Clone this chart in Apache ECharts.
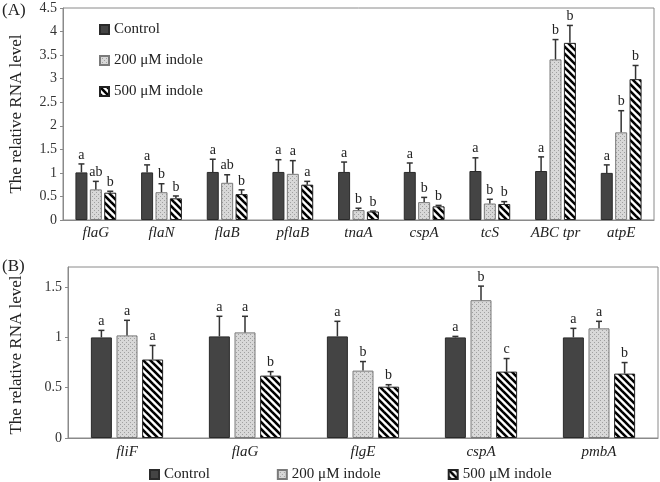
<!DOCTYPE html>
<html><head><meta charset="utf-8">
<script src="https://cdn.jsdelivr.net/npm/echarts@6/dist/echarts.min.js"></script>
<style>html,body{margin:0;padding:0;background:#fff}#c{width:660px;height:482px}</style>
</head><body><div id="c"></div>
<script>
// Panel A data
const categoriesA = ['flaG','flaN','flaB','pflaB','tnaA','cspA','tcS','ABC tpr','atpE'];
const controlA    = [1.01,1.01,1.02,1.02,1.02,1.02,1.04,1.04,1.00];
const controlErrA = [0.18,0.16,0.27,0.26,0.21,0.19,0.28,0.30,0.17];
const ind200A     = [0.65,0.59,0.79,0.98,0.21,0.38,0.35,3.41,1.86];
const ind200ErrA  = [0.17,0.18,0.17,0.28,0.04,0.10,0.09,0.42,0.46];
const ind500A     = [0.58,0.46,0.55,0.75,0.18,0.29,0.34,3.76,2.99];
const ind500ErrA  = [0.03,0.05,0.09,0.07,0.01,0.02,0.05,0.37,0.29];
const lettersControlA = ['a','a','a','a','a','a','a','a','a'];
const letters200A     = ['ab','b','ab','a','b','b','b','b','b'];
const letters500A     = ['b','b','b','a','b','b','b','b','b'];
// Panel B data
const categoriesB = ['fliF','flaG','flgE','cspA','pmbA'];
const controlB    = [1.00,1.01,1.01,1.00,1.00];
const controlErrB = [0.07,0.20,0.15,0.01,0.09];
const ind200B     = [1.02,1.05,0.67,1.37,1.09];
const ind200ErrB  = [0.15,0.16,0.09,0.14,0.07];
const ind500B     = [0.78,0.62,0.51,0.66,0.64];
const ind500ErrB  = [0.14,0.04,0.02,0.13,0.11];
const lettersControlB = ['a','a','a','a','a'];
const letters200B     = ['a','a','b','b','a'];
const letters500B     = ['a','b','b','c','b'];
const ticksA = ['0','0.5','1','1.5','2','2.5','3','3.5','4','4.5'];
const ticksB = ['0','0.5','1','1.5'];
const seriesNames = ['Control','200 μM indole','500 μM indole'];
const yName = 'The relative RNA level';

const FONT = '"Liberation Serif","Times New Roman",serif';

function dotPattern(){
  const c = document.createElement('canvas'); c.width = 4; c.height = 4;
  const g = c.getContext('2d');
  g.fillStyle = '#d8d8d8'; g.fillRect(0,0,4,4);
  g.fillStyle = '#a0a0a0';
  g.fillRect(0,0,1,1); g.fillRect(2,2,1,1);
  return {image: c, repeat: 'repeat'};
}
function stripePattern(){
  const s = 7;
  const c = document.createElement('canvas'); c.width = s; c.height = s;
  const g = c.getContext('2d');
  g.fillStyle = '#ffffff'; g.fillRect(0,0,s,s);
  g.strokeStyle = '#000'; g.lineWidth = 2.6;
  for (let k=-1;k<=1;k++){ g.beginPath(); g.moveTo(-1, k*s-1); g.lineTo(s+1, s+k*s+1); g.stroke(); }
  return {image: c, repeat: 'repeat'};
}
const styles = [
  {color:'#444444', borderColor:'#2a2a2a', borderWidth:1},
  {color:dotPattern(), borderColor:'#7a7a7a', borderWidth:1},
  {color:stripePattern(), borderColor:'#222', borderWidth:1}
];

function errSeries(axisIdx, vals, errs, letters, offset){
  return {
    type:'custom', xAxisIndex:axisIdx, yAxisIndex:axisIdx, silent:true, z:5,
    data: vals.map((v,i)=>[i, v, errs[i]]),
    renderItem: function(params, api){
      const i = api.value(0), v = api.value(1), e = api.value(2);
      const b = api.coord([i, v]); const t = api.coord([i, v+e]);
      const x = b[0] + offset;
      return {type:'group', children:[
        {type:'line', shape:{x1:x,y1:b[1],x2:x,y2:t[1]}, style:{stroke:'#333',lineWidth:1.5}},
        {type:'line', shape:{x1:x-3,y1:t[1],x2:x+3,y2:t[1]}, style:{stroke:'#333',lineWidth:1.5}},
        {type:'text', style:{text:letters[params.dataIndex], x:x, y:t[1]-2, align:'center', verticalAlign:'bottom', font:'14px '+FONT, fill:'#222'}}
      ]};
    }
  };
}

const chart = echarts.init(document.getElementById('c'), null, {renderer:'canvas'});
const yLabel = {fontFamily:FONT, fontSize:14, color:'#333', margin:6};
const xLabel = {fontFamily:FONT, fontSize:15, fontStyle:'italic', color:'#222'};
const barsA = [controlA, ind200A, ind500A];
const barsB = [controlB, ind200B, ind500B];
const series = [];
seriesNames.forEach((n,k)=>{
  series.push({name:n, type:'bar', xAxisIndex:0, yAxisIndex:0, data:barsA[k], barWidth:12, barGap:'20%', itemStyle:styles[k]});
});
seriesNames.forEach((n,k)=>{
  series.push({name:n, type:'bar', xAxisIndex:1, yAxisIndex:1, data:barsB[k], barWidth:21, barGap:'22%', itemStyle:styles[k]});
});
series.push(errSeries(0, controlA, controlErrA, lettersControlA, -14.4));
series.push(errSeries(0, ind200A, ind200ErrA, letters200A, 0));
series.push(errSeries(0, ind500A, ind500ErrA, letters500A, 14.4));
series.push(errSeries(1, controlB, controlErrB, lettersControlB, -25.6));
series.push(errSeries(1, ind200B, ind200ErrB, letters200B, 0));
series.push(errSeries(1, ind500B, ind500ErrB, letters500B, 25.6));

chart.setOption({
  animation:false,
  backgroundColor:'#fff',
  grid:[
    {left:62, right:6, top:8, bottom:262, show:true, borderColor:'#8a8a8a', borderWidth:1, containLabel:false},
    {left:68, right:2, top:267, bottom:44, show:true, borderColor:'#8a8a8a', borderWidth:1, containLabel:false}
  ],
  legend:[
    {data:seriesNames, orient:'vertical', left:94, top:17, itemWidth:9, itemHeight:9, itemGap:16, icon:'rect',
     textStyle:{fontFamily:FONT, fontSize:15, color:'#222'}},
    {data:seriesNames, orient:'horizontal', left:144, top:462, itemWidth:9, itemHeight:9, itemGap:67, icon:'rect',
     textStyle:{fontFamily:FONT, fontSize:15, color:'#222'}}
  ],
  xAxis:[
    {type:'category', gridIndex:0, data:categoriesA, axisTick:{show:false}, axisLine:{lineStyle:{color:'#8a8a8a'}}, axisLabel:Object.assign({margin:6}, xLabel)},
    {type:'category', gridIndex:1, data:categoriesB, axisTick:{show:false}, axisLine:{lineStyle:{color:'#8a8a8a'}}, axisLabel:Object.assign({margin:7}, xLabel)}
  ],
  yAxis:[
    {type:'value', gridIndex:0, min:0, max:4.5, interval:0.5, splitLine:{show:false},
     axisLine:{show:true, lineStyle:{color:'#8a8a8a'}}, axisTick:{show:true, length:3, lineStyle:{color:'#8a8a8a'}},
     axisLabel:Object.assign({formatter:(v)=>ticksA[Math.round(v/0.5)]}, yLabel),
     name:yName, nameLocation:'middle', nameGap:38, nameTextStyle:{fontFamily:FONT, fontSize:17, color:'#222'}},
    {type:'value', gridIndex:1, min:0, max:1.7, interval:0.5, splitLine:{show:false},
     axisLine:{show:true, lineStyle:{color:'#8a8a8a'}}, axisTick:{show:true, length:3, lineStyle:{color:'#8a8a8a'}},
     axisLabel:Object.assign({showMaxLabel:false, formatter:(v)=>{const i=Math.round(v/0.5); return Math.abs(v-i*0.5)<1e-6 && ticksB[i]!==undefined ? ticksB[i] : '';}}, yLabel)}
  ],
  graphic:[
    {type:'text', left:2, top:2, style:{text:'(A)', font:'17px '+FONT, fill:'#222'}},
    {type:'text', left:2, top:258, style:{text:'(B)', font:'17px '+FONT, fill:'#222'}},
    {type:'text', x:17, y:355, rotation:Math.PI/2, style:{text:yName, font:'17px '+FONT, fill:'#222', align:'center', verticalAlign:'middle'}}
  ],
  series: series
});
</script></body></html>
